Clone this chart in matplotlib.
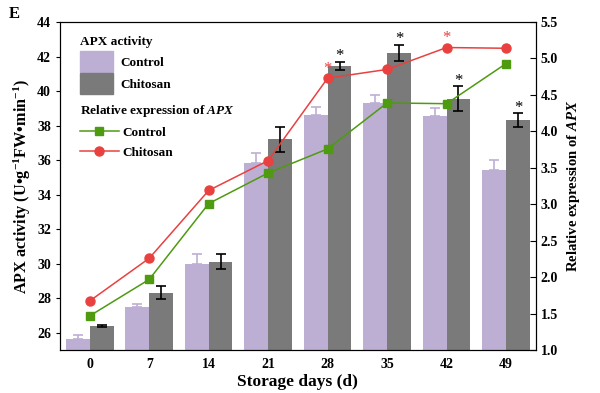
import numpy as np
import matplotlib.pyplot as plt
from matplotlib.patches import Patch
from matplotlib.lines import Line2D

plt.rcParams['font.family'] = 'Liberation Serif'
plt.rcParams['font.weight'] = 'bold'
plt.rcParams['mathtext.fontset'] = 'custom'
plt.rcParams['mathtext.rm'] = 'Liberation Serif:bold'
plt.rcParams['mathtext.bf'] = 'Liberation Serif:bold'
plt.rcParams['mathtext.it'] = 'Liberation Serif:bold:italic'
plt.rcParams['mathtext.default'] = 'bf'

# data
days = ['0', '7', '14', '21', '28', '35', '42', '49']
apx_control = [25.67, 27.48, 29.99, 35.82, 38.6, 39.3, 38.56, 35.42]
apx_control_err = [0.2, 0.19, 0.6, 0.6, 0.5, 0.5, 0.45, 0.6]
apx_chitosan = [26.39, 28.33, 30.13, 37.2, 41.47, 42.2, 39.57, 38.33]
apx_chitosan_err = [0.05, 0.36, 0.43, 0.72, 0.23, 0.48, 0.73, 0.4]
rel_control = [1.47, 1.97, 3.01, 3.43, 3.76, 4.39, 4.38, 4.93]
rel_chitosan = [1.675, 2.26, 3.19, 3.60, 4.73, 4.85, 5.15, 5.14]
star_bars = [4, 5, 6, 7]
star_line = [4, 6]

purple = '#BDAFD3'
grey = '#7A7A7A'
green = '#4E9A10'
red = '#E8413F'

fig = plt.figure(figsize=(6, 3.93), dpi=100)
ax = fig.add_axes([0.1, 0.109, 0.793, 0.835])
x = np.arange(len(days))
w = 0.4

ax.bar(x - w / 2, apx_control, w, color=purple, zorder=2)
ax.bar(x + w / 2, apx_chitosan, w, color=grey, zorder=2)
ax.errorbar(x - w / 2, apx_control, yerr=[np.zeros(len(days)), apx_control_err],
            fmt='none', ecolor=purple, elinewidth=1.2, capsize=3.5, capthick=1.2, zorder=3)
ax.errorbar(x + w / 2, apx_chitosan, yerr=apx_chitosan_err,
            fmt='none', ecolor='black', elinewidth=1.2, capsize=3.5, capthick=1.2, zorder=3)
for i in star_bars:
    ax.text(x[i] + w / 2, apx_chitosan[i] + apx_chitosan_err[i] - 0.15, '*',
            ha='center', va='bottom', fontsize=12, fontweight='normal', zorder=4)

ax.set_ylim(25, 44)
ax.set_yticks(np.arange(26, 45, 2))
ax.set_xlim(-0.5, 7.5)
ax.set_xticks(x)
ax.set_xticklabels(days)
ax.tick_params(axis='x', direction='in', length=3, labelsize=10, pad=6)
ax.tick_params(axis='y', direction='out', length=3, labelsize=10)
ax.set_xlabel('Storage days (d)', fontsize=12.5, fontweight='bold', labelpad=2)
ax.set_ylabel('APX activity (U•g$^{-1}$FW•min$^{-1}$)', fontsize=11.7, fontweight='bold', labelpad=3)

ax2 = ax.twinx()
ax2.plot(x, rel_control, '-s', color=green, lw=1.1, ms=6, zorder=5)
ax2.plot(x, rel_chitosan, '-o', color=red, lw=1.1, ms=6.5, zorder=5)
for i in star_line:
    ax2.text(x[i], rel_chitosan[i] + 0.02, '*', color=red,
             ha='center', va='bottom', fontsize=12, fontweight='normal')
ax2.set_ylim(1.0, 5.5)
ax2.set_yticks(np.arange(1.0, 5.51, 0.5))
ax2.set_yticklabels([f'{v:.1f}' for v in np.arange(1.0, 5.51, 0.5)])
ax2.tick_params(axis='y', direction='in', length=4, labelsize=10)
ax2.set_ylabel('Relative expression of $\\mathit{APX}$', fontsize=10.6, fontweight='bold', labelpad=5)
ax2.patch.set_visible(False)

leg1 = ax2.legend(handles=[Patch(color=purple, label='Control'), Patch(color=grey, label='Chitosan')],
                  title='APX activity', loc='upper left', bbox_to_anchor=(0.03, 0.972),
                  frameon=False, fontsize=9.5, title_fontsize=9.5, alignment='left',
                  handlelength=2.5, handleheight=2.1, handletextpad=0.6, labelspacing=0.05,
                  borderaxespad=0)
leg1._legend_box.sep = 2
ax2.add_artist(leg1)
ax2.legend(handles=[Line2D([], [], color=green, marker='s', ms=6, lw=1.1, label='Control'),
                    Line2D([], [], color=red, marker='o', ms=6.5, lw=1.1, label='Chitosan')],
           title='Relative expression of $\\mathit{APX}$', loc='upper left',
           bbox_to_anchor=(0.03, 0.77), frameon=False, fontsize=9.5, title_fontsize=9.5,
           alignment='left', handlelength=3.0, handletextpad=0.25, labelspacing=0.6,
           borderaxespad=0)

fig.text(0.015, 0.955, 'E', fontsize=12, fontweight='bold')

fig.savefig('out.png', dpi=100)
